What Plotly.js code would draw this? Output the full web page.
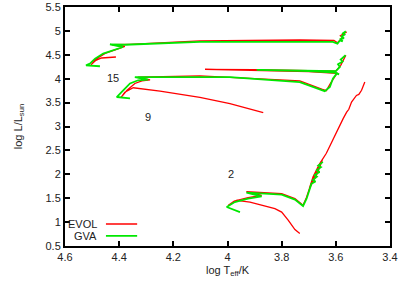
<!DOCTYPE html>
<html>
<head>
<meta charset="utf-8">
<script src="https://cdn.plot.ly/plotly-3.0.1.min.js"></script>
<style>html,body{margin:0;padding:0;background:#fff;}#chart{width:415px;height:288px;}</style>
</head>
<body>
<div id="chart"></div>
<script>
// ---- data (log Teff, log L/Lsun) ----
var evol15T = [4.412, 4.465, 4.486, 4.497, 4.504, 4.486, 4.452, 4.415, 4.379, 4.427, 4.36, 4.102, 3.85, 3.733, 3.607, 3.594, 3.575, 3.583, 3.56];
var evol15L = [4.454, 4.433, 4.385, 4.32, 4.29, 4.41, 4.53, 4.605, 4.678, 4.71, 4.72, 4.79, 4.81, 4.81, 4.80, 4.75, 4.87, 4.90, 4.98];
var gva15T = [4.471, 4.5225, 4.508, 4.489, 4.459, 4.423, 4.386, 4.434, 4.379, 4.102, 3.733, 3.611, 3.594, 3.585, 3.575, 3.582, 3.570, 3.580, 3.568, 3.574, 3.563];
var gva15L = [4.26, 4.28, 4.316, 4.42, 4.525, 4.594, 4.663, 4.72, 4.71, 4.77, 4.78, 4.77, 4.734, 4.80, 4.78, 4.83, 4.85, 4.88, 4.92, 4.95, 4.99];

var evol9T = [3.868, 3.991, 4.102, 4.249, 4.348, 4.379, 4.393, 4.371, 4.342, 4.316, 4.286, 4.331, 4.102, 3.733, 3.652, 3.635, 3.622, 3.607, 3.596, 3.70, 3.90, 4.083, 3.90, 3.70, 3.60, 3.582, 3.563];
var evol9L = [3.29, 3.48, 3.61, 3.74, 3.81, 3.716, 3.61, 3.757, 3.90, 3.956, 3.977, 4.03, 4.06, 3.956, 3.78, 3.75, 3.88, 4.03, 4.11, 4.15, 4.18, 4.196, 4.19, 4.165, 4.16, 4.28, 4.49];
var gva9T = [4.36, 4.409, 4.385, 4.36, 4.33, 4.293, 4.342, 4.299, 4.102, 3.991, 3.733, 3.659, 3.641, 3.622, 3.611, 3.597, 3.588, 3.602, 3.70, 3.892, 3.70, 3.60, 3.585, 3.592, 3.575, 3.582, 3.564];
var gva9L = [3.59, 3.617, 3.757, 3.90, 3.967, 3.98, 4.035, 4.035, 4.05, 4.035, 3.93, 3.79, 3.74, 3.826, 4.0, 4.107, 4.09, 4.13, 4.16, 4.186, 4.17, 4.16, 4.245, 4.30, 4.36, 4.40, 4.49];

var evol2T = [3.733, 3.751, 3.776, 3.80, 3.825, 3.868, 3.917, 3.966, 3.997, 3.975, 3.924, 3.874, 3.93, 3.862, 3.80, 3.751, 3.721, 3.708, 3.69, 3.665, 3.650, 3.668, 3.690, 3.698, 3.684, 3.66, 3.635, 3.61, 3.573, 3.560, 3.552, 3.542, 3.536, 3.524, 3.515, 3.505, 3.493];
var evol2L = [0.76, 0.843, 1.04, 1.21, 1.28, 1.35, 1.42, 1.456, 1.35, 1.44, 1.51, 1.56, 1.635, 1.615, 1.595, 1.49, 1.35, 1.52, 1.83, 2.12, 2.30, 2.02, 1.78, 1.70, 1.95, 2.22, 2.44, 2.747, 3.165, 3.30, 3.36, 3.51, 3.55, 3.65, 3.67, 3.757, 3.93];
var gva2T = [3.954, 4.003, 3.973, 3.924, 3.874, 3.930, 3.862, 3.80, 3.751, 3.721, 3.708, 3.69, 3.675, 3.685, 3.67, 3.68, 3.66, 3.672, 3.655, 3.665, 3.648];
var gva2L = [1.21, 1.316, 1.42, 1.49, 1.54, 1.617, 1.596, 1.575, 1.47, 1.337, 1.49, 1.805, 1.85, 1.88, 1.95, 1.98, 2.05, 2.08, 2.15, 2.18, 2.26];

var massLabels = ["15", "9", "2"];
var massLabelT = [4.423, 4.294, 3.987];
var massLabelL = [4.01, 3.19, 2.0];

var seriesNames = ["EVOL", "GVA"];
var seriesColors = ["#ff0000", "#00e800"];

// ---- traces ----
var evolT = [evol15T, evol9T, evol2T], evolL = [evol15L, evol9L, evol2L];
var gvaT = [gva15T, gva9T, gva2T], gvaL = [gva15L, gva9L, gva2L];
var traces = [];
for (var i = 0; i < 3; i++) {
  traces.push({x: evolT[i], y: evolL[i], mode: 'lines', type: 'scatter', showlegend: false,
    line: {color: seriesColors[0], width: 1.3}, hoverinfo: 'skip'});
}
for (var j = 0; j < 3; j++) {
  traces.push({x: gvaT[j], y: gvaL[j], mode: 'lines', type: 'scatter', showlegend: false,
    line: {color: seriesColors[1], width: 1.8}, hoverinfo: 'skip'});
}

var font = {family: 'Liberation Sans, Arial, sans-serif', size: 11, color: '#222'};
var annotations = [];
for (var k = 0; k < massLabels.length; k++) {
  annotations.push({x: massLabelT[k], y: massLabelL[k], xref: 'x', yref: 'y', text: massLabels[k],
    showarrow: false, font: font});
}
// custom legend (gnuplot style: text then sample)
var legY = [0.092, 0.042];
var shapes = [];
for (var m = 0; m < 2; m++) {
  annotations.push({x: 0.105, y: legY[m], xref: 'paper', yref: 'paper', text: seriesNames[m],
    xanchor: 'right', yanchor: 'middle', showarrow: false, font: font});
  shapes.push({type: 'line', xref: 'paper', yref: 'paper', x0: 0.126, x1: 0.222, y0: legY[m], y1: legY[m],
    line: {color: seriesColors[m], width: m === 0 ? 1.3 : 1.8}});
}

var axisCommon = {showgrid: false, zeroline: false, showline: true, linecolor: '#000', linewidth: 2,
  mirror: 'ticks', ticks: 'inside', ticklen: 5, tickwidth: 2, tickcolor: '#000', tickfont: font};

var layout = {
  width: 415, height: 288,
  margin: {l: 65, r: 25, t: 7, b: 42},
  paper_bgcolor: '#fff', plot_bgcolor: '#fff',
  showlegend: false,
  xaxis: Object.assign({}, axisCommon, {range: [4.6, 3.4], dtick: 0.2, tick0: 3.4,
    title: {text: 'log T<sub>eff</sub>/K', font: font, standoff: 4}}),
  yaxis: Object.assign({}, axisCommon, {range: [0.5, 5.5], dtick: 0.5, tick0: 0.5,
    title: {text: 'log L/L<sub>sun</sub>', font: font, standoff: 21}}),
  annotations: annotations,
  shapes: shapes
};

Plotly.newPlot('chart', traces, layout, {staticPlot: true, displayModeBar: false});
</script>
</body>
</html>
